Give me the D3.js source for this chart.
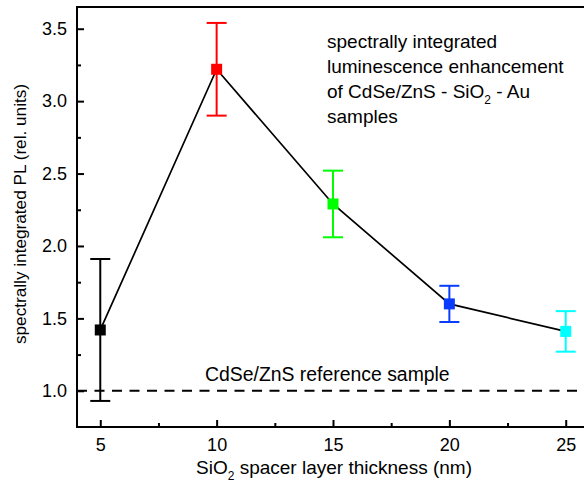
<!DOCTYPE html>
<html>
<head>
<meta charset="utf-8">
<script src="https://cdn.jsdelivr.net/npm/d3@7"></script>
<style>
  body { margin: 0; background: #fff; }
  svg { display: block; font-family: "Liberation Sans", Arial, sans-serif; }
</style>
</head>
<body>
<div id="chart"></div>
<script>
const thickness = [5, 10, 15, 20, 25];
const pl = [1.42, 3.22, 2.29, 1.6, 1.41];
const plErr = [0.49, 0.32, 0.23, 0.125, 0.14];
const colors = ["#000000", "#ff0000", "#00ff00", "#0a3cff", "#00ffff"];
const xTicks = [5, 10, 15, 20, 25];
const yTicks = [1.0, 1.5, 2.0, 2.5, 3.0, 3.5];
const referenceLevel = 1.0;
const noteLines = ["spectrally integrated", "luminescence enhancement", "of CdSe/ZnS - SiO|2| - Au", "samples"];

const width = 584, height = 484;
const plotL = 77, plotT = 7, plotR = 589, plotB = 427;

const svg = d3.select("#chart").append("svg")
  .attr("width", width).attr("height", height);

const x = d3.scaleLinear().domain([4, 26]).range([plotL, plotR]);
const y = d3.scaleLinear().domain([0.75, 3.65]).range([plotB, plotT]);

// minor ticks
svg.append("g")
  .attr("transform", `translate(0,${plotB})`)
  .call(d3.axisBottom(x).tickValues([7.5, 12.5, 17.5, 22.5]).tickSize(-4).tickFormat(""))
  .call(g => g.select(".domain").remove())
  .call(g => g.selectAll("line").attr("stroke-width", 2));
svg.append("g")
  .attr("transform", `translate(${plotL},0)`)
  .call(d3.axisLeft(y).tickValues([1.25, 1.75, 2.25, 2.75, 3.25]).tickSize(-4).tickFormat(""))
  .call(g => g.select(".domain").remove())
  .call(g => g.selectAll("line").attr("stroke-width", 2));

// major axes
const xAxis = svg.append("g")
  .attr("transform", `translate(0,${plotB})`)
  .call(d3.axisBottom(x).tickValues(xTicks).tickSize(-7).tickPadding(11).tickFormat(d3.format("d")));
const yAxis = svg.append("g")
  .attr("transform", `translate(${plotL},0)`)
  .call(d3.axisLeft(y).tickValues(yTicks).tickSize(-7).tickPadding(10).tickFormat(d3.format(".1f")));

[xAxis, yAxis].forEach(g => {
  g.select(".domain").remove();
  g.selectAll("line").attr("stroke-width", 2);
  g.selectAll("text").attr("font-size", 18).attr("fill", "#000")
    .attr("font-family", "'Liberation Sans', Arial, sans-serif");
});

// frame
svg.append("rect")
  .attr("x", plotL).attr("y", plotT)
  .attr("width", plotR - plotL).attr("height", plotB - plotT)
  .attr("fill", "none").attr("stroke", "#000").attr("stroke-width", 2);

// reference dashed line
svg.append("line")
  .attr("x1", plotL).attr("x2", plotR)
  .attr("y1", y(referenceLevel)).attr("y2", y(referenceLevel))
  .attr("stroke", "#000").attr("stroke-width", 2)
  .attr("stroke-dasharray", "10,7.5");

svg.append("text")
  .attr("x", 205).attr("y", 381)
  .attr("font-size", 19.4)
  .text("CdSe/ZnS reference sample");

// connecting line
const line = d3.line().x((d, i) => x(thickness[i])).y(d => y(d));
svg.append("path")
  .datum(pl)
  .attr("d", line)
  .attr("fill", "none")
  .attr("stroke", "#000")
  .attr("stroke-width", 1.7);

// error bars + markers
const cap = 10, ms = 11;
thickness.forEach((t, i) => {
  const g = svg.append("g").attr("stroke", colors[i]).attr("stroke-width", 2);
  const cx = x(t);
  const y1 = y(pl[i] + plErr[i]), y0 = y(pl[i] - plErr[i]);
  g.append("line").attr("x1", cx).attr("x2", cx).attr("y1", y1).attr("y2", y0);
  g.append("line").attr("x1", cx - cap).attr("x2", cx + cap).attr("y1", y1).attr("y2", y1);
  g.append("line").attr("x1", cx - cap).attr("x2", cx + cap).attr("y1", y0).attr("y2", y0);
  svg.append("rect")
    .attr("x", cx - ms / 2).attr("y", y(pl[i]) - ms / 2)
    .attr("width", ms).attr("height", ms)
    .attr("fill", colors[i]);
});

// note text
const note = svg.append("text").attr("font-size", 19);
noteLines.forEach((ln, i) => {
  const parts = ln.split("|");
  parts.forEach((p, j) => {
    const ts = note.append("tspan").text(p);
    if (j === 0) ts.attr("x", 327).attr("y", 48 + i * 25);
    if (j === 1) ts.attr("font-size", 12).attr("dy", 6);
    if (j === 2) ts.attr("dy", -6);
  });
});

// axis titles
const xt = svg.append("text")
  .attr("x", 334).attr("y", 474)
  .attr("text-anchor", "middle").attr("font-size", 19);
xt.append("tspan").text("SiO");
xt.append("tspan").text("2").attr("font-size", 12).attr("dy", 6);
xt.append("tspan").text(" spacer layer thickness (nm)").attr("dy", -6);

svg.append("text")
  .attr("transform", `translate(26,214) rotate(-90)`)
  .attr("text-anchor", "middle").attr("font-size", 17.2)
  .text("spectrally integrated PL (rel. units)");
</script>
</body>
</html>
